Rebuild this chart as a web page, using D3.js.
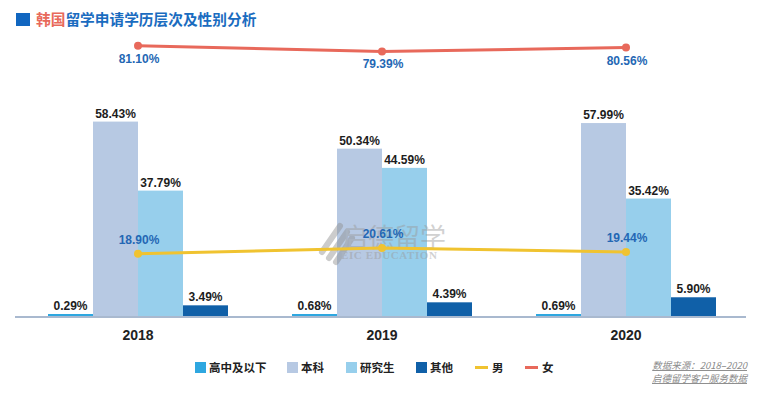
<!DOCTYPE html>
<html><head><meta charset="utf-8">
<script src="https://cdn.jsdelivr.net/npm/d3@7"></script>
<style>
body{margin:0;background:#fff;}
svg{display:block;}
</style></head>
<body>
<script>
const years = ["2018", "2019", "2020"];
const barSeries = ["高中及以下", "本科", "研究生", "其他"];
const highSchool = [0.29, 0.68, 0.69];
const bachelor = [58.43, 50.34, 57.99];
const graduate = [37.79, 44.59, 35.42];
const other = [3.49, 4.39, 5.90];
const male = [18.90, 20.61, 19.44];
const female = [81.10, 79.39, 80.56];
const barColors = ["#2ea7e0", "#b7c9e3", "#97cfec", "#1060a8"];
const maleColor = "#f0c330", femaleColor = "#e8695b";
const lineLabelColor = "#2467b4";

const W = 774, H = 395;
const svg = d3.select("body").append("svg").attr("width", W).attr("height", H);
const latin = "'Liberation Sans', Arial, sans-serif";
const cjk = "'Noto Sans CJK SC', 'Noto Sans', sans-serif";

const x = d3.scaleBand().domain(years).range([16, 748]);
const xs = d3.scaleBand().domain(barSeries).range([0, 180]);
const y = d3.scaleLinear().domain([0, 90]).range([317, 16]);

// Title
svg.append("rect").attr("x", 16).attr("y", 13).attr("width", 14).attr("height", 13).attr("fill", "#1166c0");
const title = svg.append("text").attr("x", 36).attr("y", 25).attr("font-family", cjk).attr("font-weight", 700).attr("font-size", 14.7);
title.append("tspan").attr("fill", "#e8695b").text("韩国");
title.append("tspan").attr("fill", "#1a6cc0").text("留学申请学历层次及性别分析");

// Bars
const seriesVals = [highSchool, bachelor, graduate, other];
const groups = svg.append("g");
seriesVals.forEach((vals, si) => {
  years.forEach((yr, i) => {
    const cx0 = x(yr) + x.bandwidth() / 2 - 90;
    const bx = cx0 + xs(barSeries[si]);
    const top = Math.min(y(vals[i]), 314);
    groups.append("rect").attr("x", bx).attr("y", top).attr("width", xs.bandwidth())
      .attr("height", 317 - top).attr("fill", barColors[si]);
    groups.append("text").attr("x", bx + xs.bandwidth() / 2).attr("y", top - 4)
      .attr("text-anchor", "middle").attr("font-family", latin).attr("font-weight", 700)
      .attr("font-size", 12).attr("fill", "#1d1d1d").text(vals[i].toFixed(2) + "%");
  });
});

// Axis baseline
const axis = d3.axisBottom(x).tickSize(0).tickPadding(13);
const ax = svg.append("g").attr("transform", "translate(0,317)").call(axis);
ax.select(".domain").attr("stroke", "#a9b9cf").attr("stroke-width", 2).attr("d", "M15,0H746");
ax.selectAll("text").attr("font-family", latin).attr("font-weight", 700).attr("font-size", 14).attr("fill", "#222");

// Watermark
const wm = svg.append("g").attr("opacity", 0.45);
wm.append("path").attr("d", "M322,252 L340,226 M329,258 L347,232 M336,262 L352,238").attr("stroke", "#8f8f8f").attr("stroke-width", 6).attr("stroke-linecap", "round");
wm.append("text").attr("x", 342).attr("y", 247).attr("font-family", cjk).attr("font-size", 26).attr("fill", "#9a9a9a").text("启德留学");
wm.append("text").attr("x", 341).attr("y", 259).attr("font-family", "'Liberation Serif', serif").attr("font-size", 11).attr("font-weight", 700).attr("fill", "#9a9a9a").attr("letter-spacing", 0.6).text("EIC EDUCATION");

// Lines
const cx = d => x(d) + x.bandwidth() / 2;
function drawLine(vals, color, labelAbove) {
  const line = d3.line().x((d, i) => cx(years[i])).y(d => y(d));
  svg.append("path").datum(vals).attr("d", line).attr("fill", "none").attr("stroke", color).attr("stroke-width", 3);
  svg.selectAll(null).data(vals).enter().append("circle")
    .attr("cx", (d, i) => cx(years[i])).attr("cy", d => y(d)).attr("r", 4).attr("fill", color);
  svg.selectAll(null).data(vals).enter().append("text")
    .attr("x", (d, i) => cx(years[i]) + 1).attr("y", d => labelAbove ? y(d) - 10 : y(d) + 17)
    .attr("text-anchor", "middle").attr("font-family", latin).attr("font-weight", 700)
    .attr("font-size", 12).attr("fill", lineLabelColor).text(d => d.toFixed(2) + "%");
}
drawLine(male, maleColor, true);
drawLine(female, femaleColor, false);

// Legend
const legendItems = [
  {name: "高中及以下", type: "rect", color: barColors[0], x: 195},
  {name: "本科", type: "rect", color: barColors[1], x: 287},
  {name: "研究生", type: "rect", color: barColors[2], x: 346},
  {name: "其他", type: "rect", color: barColors[3], x: 416},
  {name: "男", type: "line", color: maleColor, x: 475},
  {name: "女", type: "line", color: femaleColor, x: 525}
];
const lg = svg.append("g");
legendItems.forEach(it => {
  if (it.type === "rect") {
    lg.append("rect").attr("x", it.x).attr("y", 362).attr("width", 11).attr("height", 11).attr("fill", it.color);
    lg.append("text").attr("x", it.x + 14).attr("y", 372).attr("font-family", cjk).attr("font-weight", 700)
      .attr("font-size", 11.5).attr("fill", "#222").text(it.name);
  } else {
    lg.append("rect").attr("x", it.x).attr("y", 366).attr("width", 13).attr("height", 3).attr("fill", it.color);
    lg.append("text").attr("x", it.x + 17).attr("y", 372).attr("font-family", cjk).attr("font-weight", 700)
      .attr("font-size", 11.5).attr("fill", "#222").text(it.name);
  }
});

// Source
svg.append("text").attr("x", 747).attr("y", 369).attr("text-anchor", "end").attr("font-family", cjk)
  .attr("font-style", "italic").attr("font-size", 9.5).attr("fill", "#8a8a8a").attr("text-decoration", "underline").text("数据来源：2018–2020");
svg.append("text").attr("x", 747).attr("y", 382).attr("text-anchor", "end").attr("font-family", cjk)
  .attr("font-style", "italic").attr("font-size", 9.5).attr("fill", "#8a8a8a").attr("text-decoration", "underline").text("启德留学客户服务数据");
</script>
</body></html>
